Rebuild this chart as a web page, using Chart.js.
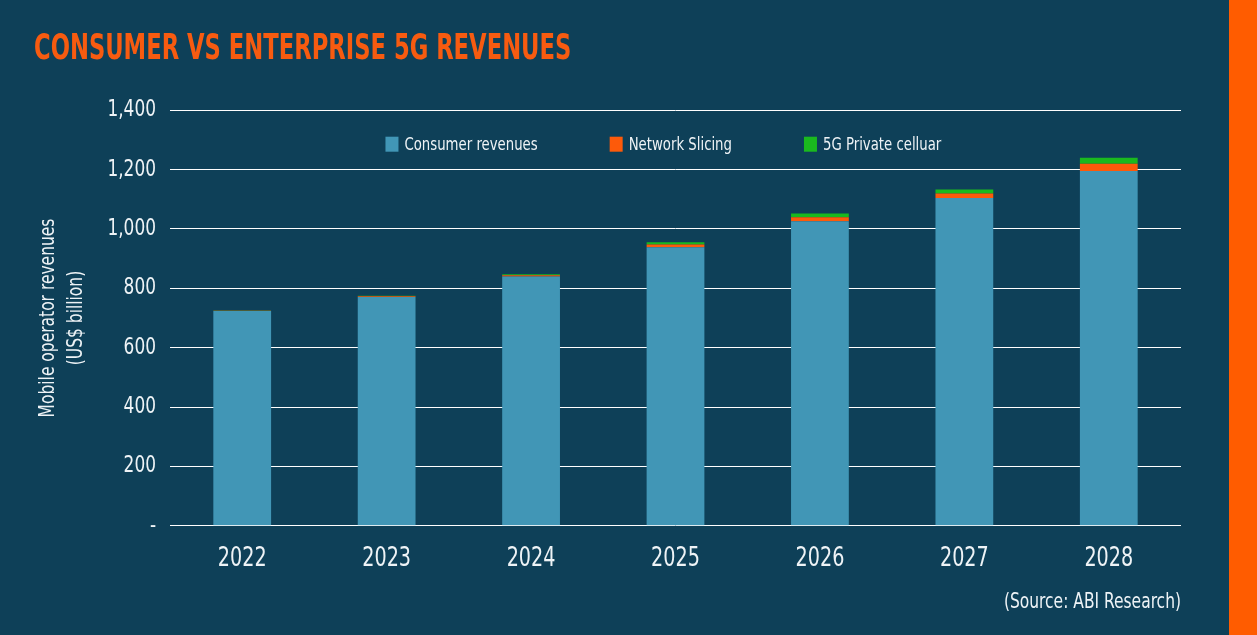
<!DOCTYPE html>
<html>
<head>
<meta charset="utf-8">
<script src="https://cdn.jsdelivr.net/npm/chart.js@4.4.1/dist/chart.umd.min.js"></script>
<style>
  html, body { margin: 0; padding: 0; background: #0e4058; }
  canvas { display: block; }
</style>
</head>
<body>
<canvas id="chart" width="1257" height="635"></canvas>
<script>
// ---- data ----
const years = ['2022', '2023', '2024', '2025', '2026', '2027', '2028'];
const consumerRevenues = [724, 771, 840, 938, 1026, 1104, 1195];
const networkSlicing   = [0.6, 2, 4, 10, 13, 15, 25];
const privateCellular  = [0.6, 2, 3, 7, 13, 14, 20];
const seriesNames = ['Consumer revenues', 'Network Slicing', '5G Private celluar'];
const yTickValues = [0, 200, 400, 600, 800, 1000, 1200, 1400];
const titleText = 'CONSUMER VS ENTERPRISE 5G REVENUES';
const sourceText = '(Source: ABI Research)';
const yAxisTitle = ['Mobile operator revenues', '(US$ billion)'];

// ---- styles ----
const FONT = "'DejaVu Sans Condensed', 'DejaVu Sans', sans-serif";
const BG = '#0e4058';
const BLUE = '#4196b6';
const ORANGE = '#fd5a0a';
const GREEN = '#1ab91e';
const TEXT = '#eef3f6';

// Emulate the narrow display typeface of the original: draw text horizontally condensed.
(function () {
  const P = CanvasRenderingContext2D.prototype;
  const origFill = P.fillText, origMeasure = P.measureText;
  const factor = ctx => (/bold|[6-9]00/.test(ctx.font) ? 0.70 : 0.82);
  P.fillText = function (text, x, y, maxWidth) {
    const f = factor(this);
    this.save();
    this.translate(x, y);
    this.scale(f, 1);
    if (maxWidth !== undefined) origFill.call(this, text, 0, 0, maxWidth / f);
    else origFill.call(this, text, 0, 0);
    this.restore();
  };
  P.measureText = function (text) {
    const m = origMeasure.call(this, text);
    const f = factor(this);
    return {
      width: m.width * f,
      actualBoundingBoxLeft: m.actualBoundingBoxLeft * f,
      actualBoundingBoxRight: m.actualBoundingBoxRight * f,
      actualBoundingBoxAscent: m.actualBoundingBoxAscent,
      actualBoundingBoxDescent: m.actualBoundingBoxDescent,
      fontBoundingBoxAscent: m.fontBoundingBoxAscent,
      fontBoundingBoxDescent: m.fontBoundingBoxDescent
    };
  };
})();

const decor = {
  id: 'decor',
  beforeDraw(chart) {
    const { ctx, width, height } = chart;
    ctx.save();
    ctx.fillStyle = BG;
    ctx.fillRect(0, 0, width, height);
    ctx.fillStyle = '#ff5c00';
    ctx.fillRect(1229, 0, width - 1229, height);
    ctx.restore();
  }
};

// Legend drawn inside the plot area, one row, between the top two grid lines
const inPlotLegend = {
  id: 'inPlotLegend',
  afterDraw(chart) {
    const { ctx, chartArea } = chart;
    ctx.save();
    ctx.font = `18px ${FONT}`;
    const items = chart.data.datasets.map(ds => ({
      text: ds.label, color: ds.backgroundColor, w: ctx.measureText(ds.label).width
    }));
    const boxW = 13, boxH = 15, gapText = 6, gapItem = 72;
    const total = items.reduce((s, it) => s + boxW + gapText + it.w, 0) + gapItem * (items.length - 1);
    let x = chartArea.left + (chartArea.right - chartArea.left) * 0.488 - total / 2;
    const cy = chartArea.top + 34;
    ctx.textBaseline = 'middle';
    ctx.textAlign = 'left';
    items.forEach(it => {
      ctx.fillStyle = it.color;
      ctx.fillRect(x, cy - boxH / 2, boxW, boxH);
      ctx.fillStyle = TEXT;
      ctx.fillText(it.text, x + boxW + gapText, cy + 1);
      x += boxW + gapText + it.w + gapItem;
    });
    ctx.restore();
  }
};

new Chart(document.getElementById('chart'), {
  type: 'bar',
  data: {
    labels: years,
    datasets: [
      { label: seriesNames[0], data: consumerRevenues, backgroundColor: BLUE },
      { label: seriesNames[1], data: networkSlicing, backgroundColor: ORANGE },
      { label: seriesNames[2], data: privateCellular, backgroundColor: GREEN }
    ]
  },
  options: {
    responsive: false,
    animation: false,
    layout: { padding: { left: 34, right: 76, top: 0, bottom: 0 } },
    datasets: { bar: { categoryPercentage: 1.0, barPercentage: 0.4 } },
    scales: {
      x: {
        stacked: true,
        afterFit(scale) { scale.height = 50; },
        grid: { display: false, drawTicks: false },
        border: { display: false },
        ticks: { color: TEXT, font: { family: FONT, size: 26 }, padding: 18 }
      },
      y: {
        stacked: true,
        min: 0,
        max: 1400,
        afterBuildTicks(scale) { scale.ticks = yTickValues.map(v => ({ value: v })); },
        afterFit(scale) { scale.width = 136; },
        grid: { color: '#ffffff', lineWidth: 1, drawTicks: false },
        border: { display: false },
        ticks: {
          color: TEXT,
          font: { family: FONT, size: 23 },
          padding: 14,
          callback: v => (v === 0 ? '-' : v.toLocaleString('en-US'))
        },
        title: {
          display: true,
          text: yAxisTitle,
          color: TEXT,
          font: { family: FONT, size: 21, lineHeight: 1.35 },
          padding: { top: 0, bottom: 0 }
        }
      }
    },
    plugins: {
      title: {
        display: true,
        text: titleText,
        align: 'start',
        color: '#f75b10',
        font: { family: FONT, size: 36, weight: 'bold' },
        padding: { top: 28, bottom: 39 }
      },
      subtitle: {
        display: true,
        text: sourceText,
        position: 'bottom',
        align: 'end',
        color: TEXT,
        font: { family: FONT, size: 21 },
        padding: { top: 14, bottom: 20 }
      },
      legend: { display: false },
      tooltip: { enabled: false }
    }
  },
  plugins: [decor, inPlotLegend]
});
</script>
</body>
</html>
